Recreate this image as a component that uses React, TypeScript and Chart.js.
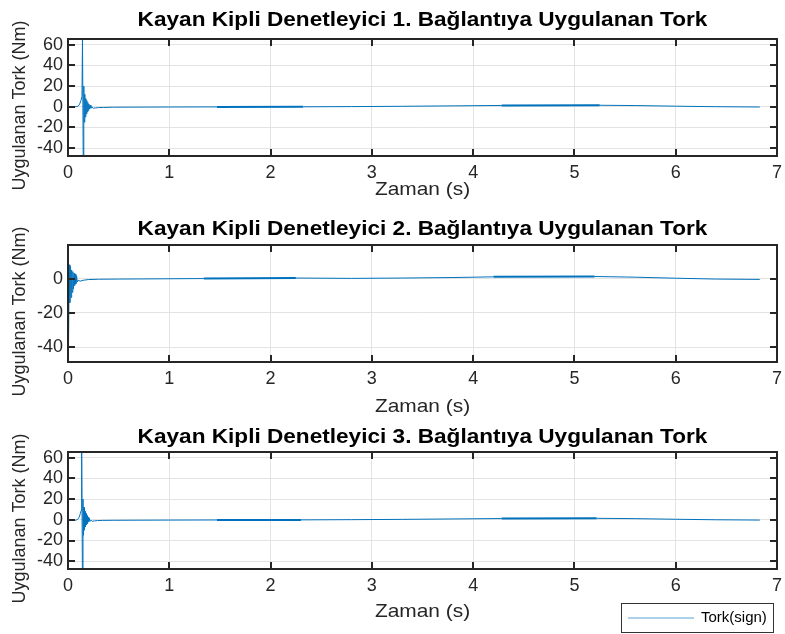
import React, { useEffect, useRef } from "react";
import { Chart, registerables } from "chart.js";

Chart.register(...registerables);

const FONT = "'Liberation Sans', Arial, Helvetica, sans-serif";
const TEXT = "#262626";
const GRID = "#e3e3e3";
const LINE_BLUE = "#0072BD";

const seriesLabel = "Tork(sign)";
const xAxisLabel = "Zaman (s)";
const yAxisLabel = "Uygulanan Tork (Nm)";
const xTicks = [0, 1, 2, 3, 4, 5, 6, 7];

// Link 1
const title1 = "Kayan Kipli Denetleyici 1. Bağlantıya Uygulanan Tork";
const time1 = [0, 0.08, 0.1, 0.115, 0.128, 0.138, 0.143, 0.15, 0.156, 0.161, 0.166, 0.171, 0.176, 0.181, 0.186, 0.191, 0.196, 0.201, 0.206, 0.212, 0.218, 0.226, 0.236, 0.25, 0.27, 0.3, 0.35, 0.45, 0.7, 1.0, 1.47, 2.32, 2.8, 3.3, 3.8, 4.28, 5.25, 5.6, 6.0, 6.4, 6.83];
const torque1 = [0, 0, 0.5, 2.5, 6, 10, 65.5, -47.7, 20, -15, 12, -10, 8, -7, 6, -5, 4, -3.5, 2.5, -2, 1.5, -1.5, -0.2, -1.5, -1.2, -0.9, -0.7, -0.5, -0.4, -0.3, -0.2, -0.1, 0.1, 0.4, 0.8, 1.2, 1.4, 1.1, 0.5, 0, -0.3];
const chatter1 = [[1.47, 2.32], [4.28, 5.25]];
const yTicks1 = [-40, -20, 0, 20, 40, 60];
const yRange1 = [-47.7, 65.5];

// Link 2
const title2 = "Kayan Kipli Denetleyici 2. Bağlantıya Uygulanan Tork";
const time2 = [0, 0.004, 0.012, 0.018, 0.024, 0.03, 0.036, 0.042, 0.048, 0.054, 0.06, 0.066, 0.072, 0.078, 0.085, 0.092, 0.1, 0.12, 0.15, 0.2, 0.3, 0.5, 0.8, 1.34, 2.25, 2.8, 3.3, 3.8, 4.2, 5.2, 5.6, 6.0, 6.4, 6.83];
const torque2 = [19.5, -48.5, 8, -14, 7, -11, 5, -8, 4, -6, 3, -4, 2.5, -3, 1.5, -2, -1, -1.5, -1, -0.6, -0.4, -0.3, -0.2, 0, 0.3, 0.1, 0.3, 0.6, 1.0, 1.2, 0.8, 0.2, -0.3, -0.5];
const chatter2 = [[1.34, 2.25], [4.2, 5.2]];
const yTicks2 = [-40, -20, 0];
const yRange2 = [-48.5, 19.5];

// Link 3
const title3 = "Kayan Kipli Denetleyici 3. Bağlantıya Uygulanan Tork";
const time3 = [0, 0.075, 0.095, 0.11, 0.122, 0.13, 0.135, 0.142, 0.148, 0.153, 0.158, 0.163, 0.168, 0.173, 0.178, 0.183, 0.188, 0.193, 0.198, 0.204, 0.21, 0.218, 0.228, 0.24, 0.26, 0.29, 0.34, 0.45, 0.7, 1.0, 1.47, 2.3, 2.8, 3.3, 3.8, 4.28, 5.22, 5.6, 6.0, 6.4, 6.83];
const torque3 = [-0.5, -0.5, 0.3, 2.5, 6, 9, 65.4, -47.5, 20, -15, 12, -10, 8, -7, 6, -5, 4, -3.5, 2.5, -2, 1.5, -1.5, -0.3, -1.4, -1.1, -0.8, -0.6, -0.5, -0.4, -0.3, -0.2, -0.1, 0.1, 0.4, 0.8, 1.2, 1.4, 1.1, 0.5, 0, -0.3];
const chatter3 = [[1.47, 2.3], [4.28, 5.22]];
const yTicks3 = [-40, -20, 0, 20, 40, 60];
const yRange3 = [-47.5, 65.4];

type Panel = {
  title: string;
  time: number[];
  torque: number[];
  chatter: number[][];
  yTicks: number[];
  yRange: number[];
  canvasTop: number;
  canvasHeight: number;
  areaTop: number;
  areaBottom: number;
  titleGap: number;
  xLabelGap: number;
  legend: boolean;
};

const panels: Panel[] = [
  { title: title1, time: time1, torque: torque1, chatter: chatter1, yTicks: yTicks1, yRange: yRange1, canvasTop: 0, canvasHeight: 208, areaTop: 39, areaBottom: 156, titleGap: 19, xLabelGap: 34, legend: false },
  { title: title2, time: time2, torque: torque2, chatter: chatter2, yTicks: yTicks2, yRange: yRange2, canvasTop: 208, canvasHeight: 208, areaTop: 245, areaBottom: 362, titleGap: 16, xLabelGap: 45, legend: false },
  { title: title3, time: time3, torque: torque3, chatter: chatter3, yTicks: yTicks3, yRange: yRange3, canvasTop: 416, canvasHeight: 218, areaTop: 452, areaBottom: 569, titleGap: 15, xLabelGap: 43, legend: true },
];

const WIDTH = 785;
const AREA_LEFT = 68;
const AREA_RIGHT = 777;

// Text drawn slightly widened, like the exported figure's lettering
function wideText(ctx: CanvasRenderingContext2D, text: string, x: number, y: number, stretch: number) {
  ctx.save();
  ctx.translate(x, y);
  ctx.scale(stretch, 1);
  ctx.fillText(text, 0, 0);
  ctx.restore();
}

// Box, inward tick marks, titles, axis labels and legend in MATLAB style
function decorPlugin(p: Panel) {
  return {
    id: "decor",
    afterDraw(chart: any) {
      const ctx = chart.ctx as CanvasRenderingContext2D;
      const { left, right, top, bottom } = chart.chartArea;
      const xs = chart.scales.x;
      const ys = chart.scales.y;
      const tickLen = 7;
      ctx.save();
      ctx.strokeStyle = TEXT;
      ctx.lineWidth = 2;
      ctx.beginPath();
      xTicks.forEach((v) => {
        const px = Math.round(xs.getPixelForValue(v));
        ctx.moveTo(px, bottom);
        ctx.lineTo(px, bottom - tickLen);
        ctx.moveTo(px, top);
        ctx.lineTo(px, top + tickLen);
      });
      p.yTicks.forEach((v) => {
        const py = Math.round(ys.getPixelForValue(v));
        ctx.moveTo(left, py);
        ctx.lineTo(left + tickLen, py);
        ctx.moveTo(right, py);
        ctx.lineTo(right - tickLen, py);
      });
      ctx.stroke();
      ctx.strokeRect(left, top, right - left, bottom - top);

      const cx = (left + right) / 2;
      ctx.fillStyle = "#000";
      ctx.textAlign = "center";
      ctx.textBaseline = "middle";
      ctx.font = `bold 20px ${FONT}`;
      wideText(ctx, p.title, cx, top - p.titleGap, 1.13);

      ctx.fillStyle = TEXT;
      ctx.font = `19px ${FONT}`;
      wideText(ctx, xAxisLabel, cx, bottom + p.xLabelGap, 1.1);

      ctx.font = `18px ${FONT}`;
      ctx.save();
      ctx.translate(20, (top + bottom) / 2 + 8);
      ctx.rotate(-Math.PI / 2);
      ctx.fillText(yAxisLabel, 0, 0);
      ctx.restore();

      if (p.legend) {
        const bx = 621;
        const by = 603 - p.canvasTop;
        const bw = 152;
        const bh = 29;
        ctx.fillStyle = "#fff";
        ctx.fillRect(bx, by, bw, bh);
        ctx.strokeStyle = "#333";
        ctx.lineWidth = 1;
        ctx.strokeRect(bx + 0.5, by + 0.5, bw, bh);
        ctx.strokeStyle = "#5aa5d8";
        ctx.lineWidth = 1.2;
        ctx.beginPath();
        ctx.moveTo(bx + 7, by + 15);
        ctx.lineTo(bx + 73, by + 15);
        ctx.stroke();
        ctx.fillStyle = "#000";
        ctx.textAlign = "left";
        ctx.font = `15px ${FONT}`;
        ctx.fillText(seriesLabel, bx + 80, by + 15);
      }
      ctx.restore();
    },
  };
}

function inChatter(bands: number[][], t: number) {
  return bands.some(([a, b]) => t >= a && t <= b);
}

function buildConfig(p: Panel): any {
  return {
    type: "line",
    data: {
      datasets: [
        {
          label: seriesLabel,
          data: p.time.map((t, i) => ({ x: t, y: p.torque[i] })),
          borderColor: LINE_BLUE,
          borderWidth: 1,
          pointRadius: 0,
          tension: 0,
          segment: {
            borderWidth: (c: any) =>
              inChatter(p.chatter, (c.p0.parsed.x + c.p1.parsed.x) / 2) ? 2 : 1,
          },
        },
      ],
    },
    options: {
      animation: false,
      responsive: false,
      maintainAspectRatio: false,
      events: [],
      layout: { padding: { top: p.areaTop - p.canvasTop, right: WIDTH - AREA_RIGHT, bottom: 0, left: 0 } },
      plugins: {
        legend: { display: false },
        tooltip: { enabled: false },
        title: { display: false },
      },
      scales: {
        x: {
          type: "linear",
          min: 0,
          max: 7,
          afterBuildTicks: (s: any) => {
            s.ticks = xTicks.map((v) => ({ value: v }));
          },
          afterFit: (s: any) => {
            s.height = p.canvasTop + p.canvasHeight - p.areaBottom;
            s.paddingLeft = 0;
            s.paddingRight = 0;
          },
          grid: { color: GRID, lineWidth: 1, drawTicks: false },
          border: { display: false },
          ticks: {
            color: TEXT,
            padding: 6,
            maxRotation: 0,
            autoSkip: false,
            font: { family: FONT, size: 18 },
          },
        },
        y: {
          type: "linear",
          min: p.yRange[0],
          max: p.yRange[1],
          afterBuildTicks: (s: any) => {
            s.ticks = p.yTicks.map((v) => ({ value: v }));
          },
          afterFit: (s: any) => {
            s.width = AREA_LEFT;
            s.paddingTop = 0;
            s.paddingBottom = 0;
          },
          grid: { color: GRID, lineWidth: 1, drawTicks: false },
          border: { display: false },
          ticks: {
            color: TEXT,
            padding: 5,
            autoSkip: false,
            font: { family: FONT, size: 18, lineHeight: 1 },
          },
        },
      },
    },
    plugins: [decorPlugin(p)],
  };
}

function TorquePanel({ panel }: { panel: Panel }) {
  const ref = useRef<HTMLCanvasElement | null>(null);
  useEffect(() => {
    if (!ref.current) return;
    const chart = new Chart(ref.current, buildConfig(panel));
    return () => chart.destroy();
  }, [panel]);
  return (
    <canvas
      ref={ref}
      width={WIDTH}
      height={panel.canvasHeight}
      style={{ position: "absolute", left: 0, top: panel.canvasTop, width: WIDTH, height: panel.canvasHeight, display: "block" }}
    />
  );
}

export default function App() {
  return (
    <div style={{ position: "absolute", left: 0, top: 0, width: WIDTH, height: 634, background: "#fff", overflow: "hidden" }}>
      {panels.map((p, i) => (
        <TorquePanel key={i} panel={p} />
      ))}
    </div>
  );
}
